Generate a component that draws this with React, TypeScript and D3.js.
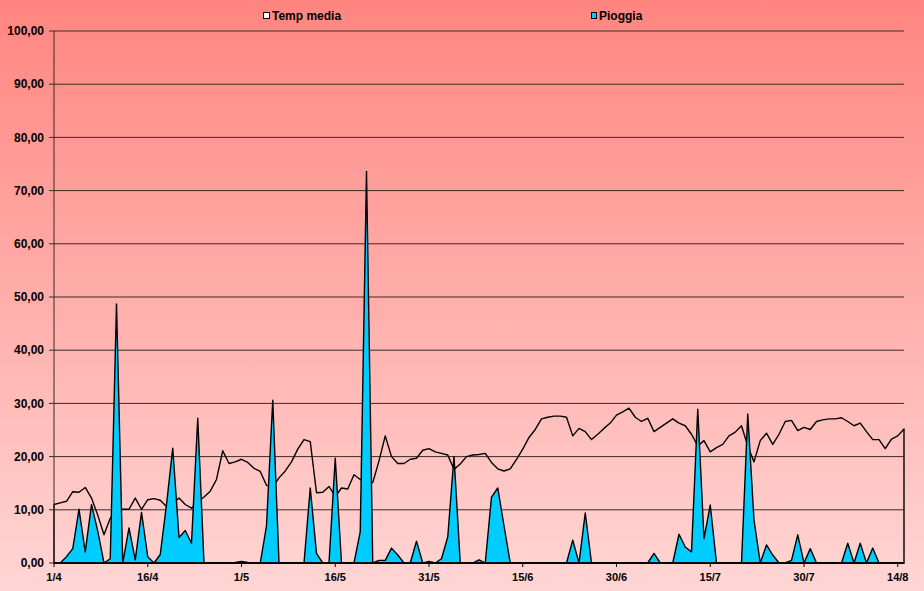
import React from "react";
import * as d3 from "d3";

const W = 924;
const H = 591;

const tempMedia = [
  11.0, 11.3, 11.6, 13.4, 13.3, 14.2, 12.2, 9.0, 5.3, 8.4,
  10.0, 10.1, 10.1, 12.2, 10.1, 11.9, 12.1, 11.8, 10.6, 11.3,
  12.2, 11.0, 10.3, 11.5, 12.4, 13.5, 15.7, 21.1, 18.7, 19.0,
  19.5, 18.9, 17.8, 17.2, 14.6, 14.3, 16.0, 17.3, 19.0, 21.4,
  23.2, 22.8, 13.2, 13.3, 14.4, 12.5, 14.1, 13.9, 16.6, 15.7,
  15.0, 15.1, 19.2, 23.9, 20.0, 18.7, 18.7, 19.5, 19.7, 21.2,
  21.5, 20.9, 20.6, 20.3, 17.6, 18.6, 20.0, 20.3, 20.4, 20.6,
  18.9, 17.7, 17.3, 17.7, 19.5, 21.4, 23.6, 25.1, 27.1, 27.4,
  27.6, 27.6, 27.4, 23.9, 25.3, 24.7, 23.2, 24.2, 25.3, 26.3,
  27.8, 28.4, 29.1, 27.4, 26.6, 27.2, 24.7, 25.5, 26.3, 27.1,
  26.3, 25.8, 24.2, 22.0, 23.0, 20.9, 21.7, 22.3, 23.9, 24.6,
  25.8, 22.0, 19.0, 23.0, 24.4, 22.3, 24.2, 26.6, 26.8, 24.9,
  25.5, 25.1, 26.6, 26.9, 27.1, 27.1, 27.3, 26.6, 25.8, 26.3,
  24.7, 23.2, 23.2, 21.5, 23.3, 23.9, 25.2,
];

const pioggia = [
  0, 0, 1.2, 2.7, 10.1, 2.1, 11.0, 6.0, 0, 0.8,
  48.7, 0, 6.6, 0.6, 9.5, 1.2, 0, 1.6, 11.0, 21.6,
  4.8, 6.1, 3.7, 27.2, 0, 0, 0, 0, 0, 0.1,
  0.3, 0.1, 0, 0, 7.0, 30.6, 0, 0, 0, 0,
  0, 14.1, 1.8, 0, 0, 19.7, 0, 0, 0, 5.9,
  73.6, 0, 0.5, 0.5, 2.8, 1.5, 0, 0, 4.1, 0,
  0.3, 0, 0.8, 4.9, 20.0, 0, 0, 0, 0.6, 0,
  12.4, 14.1, 7.0, 0, 0, 0, 0, 0, 0, 0,
  0, 0, 0, 4.3, 0, 9.4, 0, 0, 0, 0,
  0, 0, 0, 0, 0, 0, 1.8, 0, 0, 0,
  5.4, 3.0, 2.1, 28.9, 4.6, 10.9, 0, 0, 0, 0,
  0, 28.0, 8.1, 0, 3.4, 1.5, 0, 0, 0.5, 5.3,
  0, 2.7, 0, 0, 0, 0, 0, 3.7, 0, 3.7,
  0, 2.8, 0, 0, 0, 0, 0,
];

// categories: days from 1/4 to 15/8
const startDate = new Date(2000, 3, 1);
const categories = tempMedia.map((_, i) => {
  const d = d3.timeDay.offset(startDate, i);
  return `${d.getDate()}/${d.getMonth() + 1}`;
});

const xTickLabels = ["1/4", "16/4", "1/5", "16/5", "31/5", "15/6", "30/6", "15/7", "30/7", "14/8"];
const yTicks = [0, 10, 20, 30, 40, 50, 60, 70, 80, 90, 100];
const seriesNames = ["Temp media", "Pioggia"];

const FONT = "'Liberation Sans', Arial, sans-serif";

export default function App() {
  const left = 54;
  const right = 904;
  const top = 31;
  const bottom = 563;

  const x = d3.scalePoint<string>().domain(categories).range([left, right]);
  const y = d3.scaleLinear().domain([0, 100]).range([bottom, top]);

  const area = d3
    .area<number>()
    .x((_, i) => x(categories[i]) as number)
    .y0(y(0))
    .y1((d) => y(d));

  const tempPath = area(tempMedia) as string;
  const rainPath = area(pioggia) as string;

  const fmt = (v: number) => v.toFixed(2).replace(".", ",");

  return (
    <svg
      width={W}
      height={H}
      style={{ position: "absolute", left: 0, top: 0, display: "block" }}
      fontFamily={FONT}
    >
      <defs>
        <linearGradient id="bg" x1="0" y1="0" x2="0" y2="1">
          <stop offset="0%" stopColor="#FF8580" />
          <stop offset="100%" stopColor="#FFD6D4" />
        </linearGradient>
      </defs>
      <rect x={0} y={0} width={W} height={H} fill="url(#bg)" />

      {/* gridlines */}
      {yTicks.map((t) => (
        <line key={"g" + t} x1={left} x2={right} y1={y(t)} y2={y(t)} stroke="#3a2a2a" strokeWidth={1} />
      ))}

      {/* series */}
      <path d={tempPath} fill="none" stroke="#000" strokeWidth={1.4} strokeLinejoin="round" />
      <path d={rainPath} fill="#00CCFF" stroke="#000" strokeWidth={1.4} strokeLinejoin="round" />

      {/* axes */}
      <line x1={left} x2={left} y1={top} y2={bottom} stroke="#3a2a2a" strokeWidth={1} />
      <line x1={left} x2={right} y1={bottom} y2={bottom} stroke="#000" strokeWidth={1.5} />
      {yTicks.map((t) => (
        <g key={"yt" + t}>
          <line x1={left - 5} x2={left} y1={y(t)} y2={y(t)} stroke="#3a2a2a" />
          <text x={44} y={y(t)} dy="0.35em" textAnchor="end" fontSize={12} fontWeight="bold" fill="#000">
            {fmt(t)}
          </text>
        </g>
      ))}
      {xTickLabels.map((lab) => {
        const xp = x(lab) as number;
        return (
          <g key={"xt" + lab}>
            <line x1={xp} x2={xp} y1={bottom} y2={bottom + 4} stroke="#000" />
            <text x={xp} y={581} textAnchor="middle" fontSize={11} fontWeight="bold" fill="#000">
              {lab}
            </text>
          </g>
        );
      })}

      {/* legend */}
      <rect x={263.5} y={12.5} width={6} height={6} fill="#fff" stroke="#000" />
      <text x={272} y={19.5} fontSize={12} fontWeight="bold" fill="#000">
        {seriesNames[0]}
      </text>
      <rect x={591.5} y={12.5} width={5} height={6} fill="#00CCFF" stroke="#000" />
      <text x={599} y={19.5} fontSize={12} fontWeight="bold" fill="#000">
        {seriesNames[1]}
      </text>
    </svg>
  );
}
